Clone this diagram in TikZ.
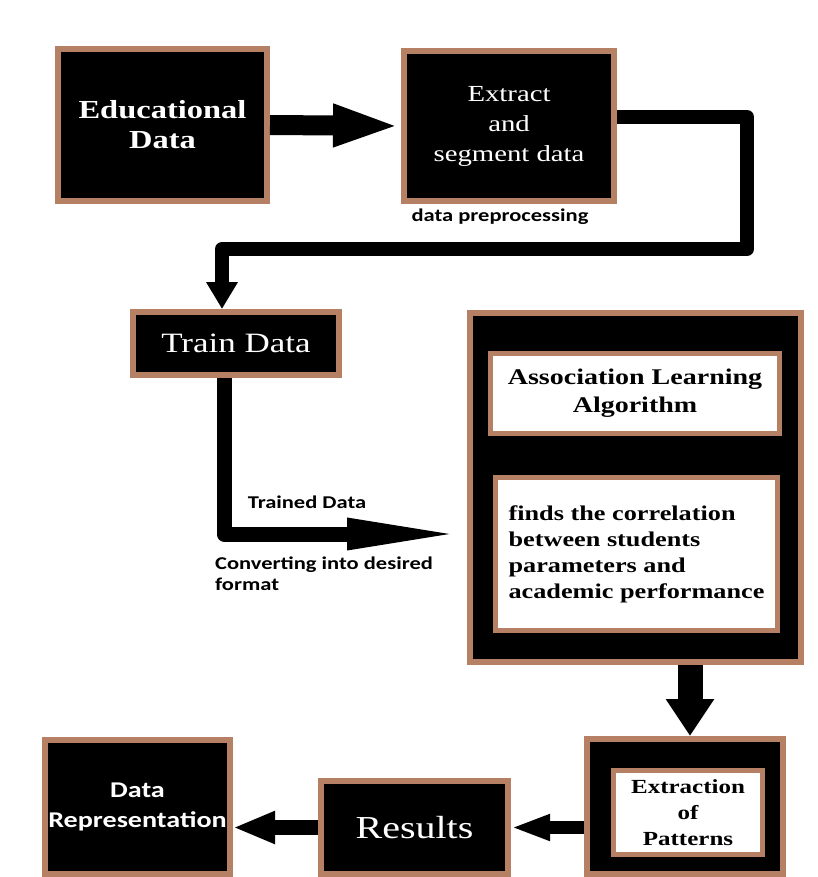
\documentclass[tikz,border=0pt]{standalone}
\usepackage{fontspec}
\setmainfont{Liberation Serif}[FakeStretch=1.25]
\newfontfamily\capfont{Carlito}[FakeStretch=1.25]
\usepackage{tikz}
\usetikzlibrary{positioning,arrows.meta}
\definecolor{rim}{RGB}{181,128,99}

\begin{document}
\begin{tikzpicture}[x=1pt,y=-1pt,
  darkbox/.style={draw=rim,line width=6pt,fill=black,text=white,align=center,inner sep=0pt},
  lightbox/.style={draw=rim,line width=5pt,fill=white,text=black,align=center,inner sep=0pt},
  pipe/.style={line width=#1,line join=round},
  lbl/.style={font=\capfont\bfseries\fontsize{18}{21}\selectfont,align=left,inner sep=0pt}]
  \useasboundingbox (0,0) rectangle (818,877);
  % top row
  \node[darkbox,minimum width=209,minimum height=152,font=\bfseries\fontsize{26}{30}\selectfont] (edu) at (162.5,125) {Educational\\Data};
  \node[darkbox,minimum width=210,minimum height=150,font=\fontsize{23}{30}\selectfont] (extract) at (509,126) {Extract\\and\\segment data};
  \node[lbl,below=5pt of extract,xshift=-9pt] (prep) {data preprocessing};
  \node[darkbox,minimum width=206,minimum height=63,font=\fontsize{28}{32}\selectfont] (train) at (236,343.5) {Train Data};
  % association block
  \node[darkbox,minimum width=331,minimum height=349] (assoc) at (635.5,487.5) {};
  \node[lightbox,minimum width=289,minimum height=80,font=\bfseries\fontsize{22.4}{28}\selectfont] (algo) at (635,393.5) {Association Learning\\Algorithm};
  \node[lightbox,minimum width=282,minimum height=153,align=left,font=\bfseries\fontsize{21}{26}\selectfont] (corr) at (636.5,554) {finds the correlation\\between students\\parameters and\\academic performance};
  % bottom row
  \node[darkbox,minimum width=196,minimum height=135] (extr) at (685,806.5) {};
  \node[lightbox,minimum width=149,minimum height=84,font=\bfseries\fontsize{20}{26}\selectfont] (patt) at (688,812.5) {Extraction\\of\\Patterns};
  \node[darkbox,minimum width=187,minimum height=93,font=\fontsize{32}{36}\selectfont] (res) at (414.5,827.5) {Results};
  \node[darkbox,minimum width=185,minimum height=134,font=\capfont\bfseries\fontsize{22.5}{30}\selectfont] (rep) at (137.5,807) {Data\\Representation};
  \node[lbl] (trained) at (307,502) {Trained Data};
  \node[lbl,anchor=north west] (conv) at (215,557) {Converting into desired\\format};
  \coordinate (turn) at (747,249);
  % connectors
  \draw[pipe=20pt,-{Triangle[length=68pt,width=38pt]}] (edu.east) -- (extract.west);
  \draw[pipe=14pt,-{Triangle[length=27pt,width=30pt]}] ([yshift=9pt]extract.east) -| (turn) -| ([xshift=-14pt]train.north);
  \draw[pipe=15pt,-{Triangle[length=120pt,width=28pt]}] ([xshift=-12pt]train.south) |- ([yshift=-46.5pt]assoc.west);
  \draw[pipe=25pt,-{Triangle[length=37pt,width=46pt]}] ([xshift=54.5pt]assoc.south) -- ([xshift=54.5pt]assoc.south |- extr.north);
  \draw[pipe=13pt,-{Triangle[length=39pt,width=24pt]}] (extr.west |- res) -- (res.east);
  \draw[pipe=15pt,-{Triangle[length=42pt,width=30pt]}] (res.west) -- (rep.east |- res.west);
\end{tikzpicture}
\end{document}
